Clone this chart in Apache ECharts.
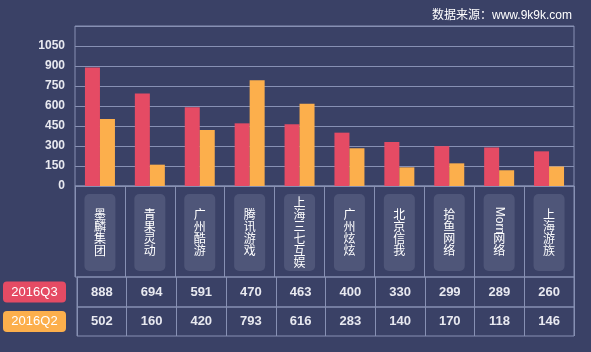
<!DOCTYPE html>
<html>
<head>
<meta charset="utf-8">
<script src="https://cdn.jsdelivr.net/npm/echarts@6/dist/echarts.min.js"></script>
<style>
html,body{margin:0;padding:0;background:#3a4166;}
#chart{width:591px;height:352px;}
</style>
</head>
<body>
<div id="chart"></div>
<script>
var categories = ['墨麟集团','青果灵动','广州酷游','腾讯游戏','上海三七互娱','广州炫炫','北京信我','拾鱼网络','Morn网络','上海游族'];
var seriesNames = ['2016Q3','2016Q2'];
var q3 = [888,694,591,470,463,400,330,299,289,260];
var q2 = [502,160,420,793,616,283,140,170,118,146];
var yTicks = [0,150,300,450,600,750,900,1050];

var RED = '#e54b64', ORANGE = '#fcaf4c', LINE = '#8790b3', BOX = '#4f5679';
var FONT = 'Arial, "Liberation Sans", "Noto Sans CJK SC", sans-serif';
var CJK = '"Noto Sans CJK SC", sans-serif';

// 竖排标签：中文逐字，英文整段旋转
function renderLabel(params, api){
	var name = categories[params.dataIndex];
	var cs = params.coordSys;
	var cx = api.coord([params.dataIndex, 0])[0];
	var w = 31, h = 77, top = cs.y + 8;
	var cy = top + h / 2;
	var runs = name.match(/[A-Za-z]+|./g);
	var sizes = runs.map(function(r){ return /[A-Za-z]/.test(r) ? r.length * 6.2 : 12; });
	var total = sizes.reduce(function(a,b){ return a + b; }, 0);
	var y = cy - total / 2;
	var children = [{
		type:'rect',
		shape:{x:cx - w / 2, y:top, width:w, height:h, r:5},
		style:{fill:BOX}
	}];
	runs.forEach(function(r, i){
		var latin = /[A-Za-z]/.test(r);
		children.push({
			type:'text',
			x:cx,
			y:y + sizes[i] / 2,
			rotation:latin ? -Math.PI / 2 : 0,
			style:{
				text:r,
				fill:'#fff',
				font:'12px ' + (latin ? FONT : CJK),
				align:'center',
				verticalAlign:'middle'
			}
		});
		y += sizes[i];
	});
	return {type:'group', children:children};
}

function rowAxis(idx, values){
	return {
		type:'category', gridIndex:idx, data:categories, boundaryGap:true,
		axisLine:{show:false}, axisTick:{show:false},
		splitLine:{show:true, interval:0, lineStyle:{color:LINE, width:1}},
		axisLabel:values ? {
			show:true, interval:0, inside:true, margin:idx === 2 ? 15 : 14.5,
			verticalAlign:'middle', color:'#e8e9f0', fontSize:13, fontWeight:'bold',
			formatter:function(v, i){ return values[i]; }
		} : {show:false}
	};
}

function legendAxis(idx, name, color){
	return {
		type:'category', gridIndex:idx, data:[name],
		axisLine:{show:false}, axisTick:{show:false}, splitLine:{show:false},
		axisLabel:{
			margin:11,
			formatter:'{a|{value}}',
			rich:{a:{
				backgroundColor:color, color:'#fff', width:63, align:'center',
				lineHeight:14, padding:[4,0,4,0], borderRadius:4, fontSize:13,
				fontFamily:FONT
			}}
		}
	};
}

var gridBase = {left:75, width:499, show:true, borderColor:LINE, borderWidth:1, backgroundColor:'transparent'};
function grid(top, height){
	return Object.assign({}, gridBase, {top:top, height:height});
}

var chart = echarts.init(document.getElementById('chart'));
chart.setOption({
	backgroundColor:'#3a4166',
	textStyle:{fontFamily:FONT},
	animation:false,
	title:{
		text:'数据来源：www.9k9k.com',
		right:14, top:5,
		textStyle:{color:'#fff', fontSize:12, fontWeight:'normal', fontFamily:FONT}
	},
	grid:[grid(26,160), grid(186,91), grid(277,30), grid(307,29)],
	xAxis:[
		{
			type:'category', gridIndex:0, data:categories,
			axisLine:{show:false}, axisTick:{show:false}, axisLabel:{show:false}, splitLine:{show:false}
		},
		rowAxis(1, null),
		rowAxis(2, q3),
		rowAxis(3, q2)
	],
	yAxis:[
		{
			type:'value', gridIndex:0, min:0, max:1200, interval:150,
			axisLine:{show:false}, axisTick:{show:false},
			splitLine:{lineStyle:{color:LINE, width:1}},
			axisLabel:{
				color:'#e8e9f0', fontSize:12, fontWeight:'bold', margin:10,
				formatter:function(v){ return yTicks.indexOf(v) >= 0 ? v : ''; }
			}
		},
		{type:'value', gridIndex:1, min:0, max:1, show:false},
		legendAxis(2, seriesNames[0], RED),
		legendAxis(3, seriesNames[1], ORANGE)
	],
	series:[
		{
			name:seriesNames[0], type:'bar', xAxisIndex:0, yAxisIndex:0,
			data:q3, barWidth:15, barGap:'0%', itemStyle:{color:RED}
		},
		{
			name:seriesNames[1], type:'bar', xAxisIndex:0, yAxisIndex:0,
			data:q2, barWidth:15, barGap:'0%', itemStyle:{color:ORANGE}
		},
		{
			type:'custom', xAxisIndex:1, yAxisIndex:1,
			data:categories.map(function(c, i){ return [i, 0]; }),
			renderItem:renderLabel, silent:true
		}
	]
});
</script>
</body>
</html>
